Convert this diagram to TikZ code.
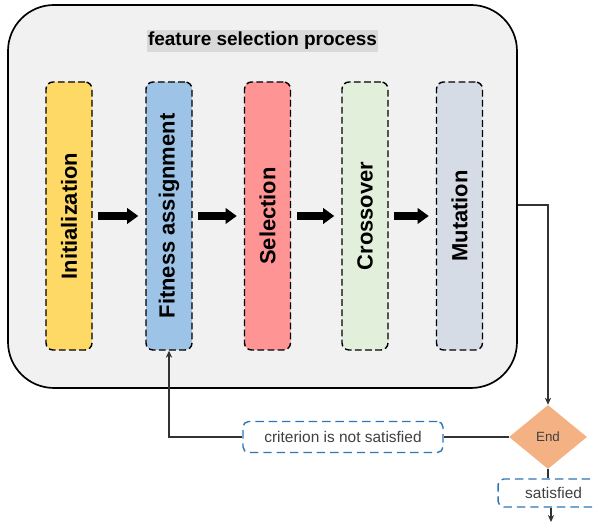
\documentclass[tikz,border=0pt]{standalone}
\usepackage{fontspec}
\setmainfont{Liberation Sans}
\usepackage{graphicx}
\usetikzlibrary{arrows.meta,shapes.geometric}

\begin{document}
\begin{tikzpicture}[
  stage/.style={draw=black, dash pattern=on 4.8pt off 2.4pt, line width=1pt,
    rounded corners=5pt, minimum width=1.15cm, minimum height=6.7cm,
    inner sep=0pt, font=\fontsize{15.6}{18}\selectfont\bfseries},
  outcome/.style={draw=dashblue, dash pattern=on 6pt off 3.5pt, line width=1pt,
    rounded corners=4pt, inner sep=0pt, text=labelgray,
    font=\fontsize{11}{13}\selectfont},
  bigarrow/.style={line width=5.5pt, -{Triangle[length=8pt,width=11pt]},
    shorten <=4pt, shorten >=5pt},
  flow/.style={line width=0.9pt, draw=linegray, -{Stealth[length=5pt,width=4.5pt]}}
]

% Define colors for the stages
\definecolor{initcol}{RGB}{255,217,102}
\definecolor{fitcol}{RGB}{157,195,230}
\definecolor{selcol}{RGB}{255,148,148}
\definecolor{crosscol}{RGB}{226,239,218}
\definecolor{mutcol}{RGB}{214,220,229}
\definecolor{endcol}{RGB}{244,177,131}
\definecolor{panelgray}{RGB}{241,241,241}
\definecolor{titlegray}{RGB}{217,217,217}
\definecolor{dashblue}{RGB}{46,117,182}
\definecolor{labelgray}{RGB}{64,64,64}
\definecolor{linegray}{RGB}{50,50,50}

% Page frame
\useasboundingbox (0,0) rectangle (14.825,13.2);

% Outer panel with its title
\node[draw=black, line width=1.2pt, fill=panelgray, rounded corners=1.15cm,
  minimum width=12.725cm, minimum height=9.575cm, inner sep=0pt] (process) at (6.5625,8.2875) {};
\node[fill=titlegray, inner xsep=1pt, inner ysep=1pt, text height=10pt, text depth=3pt,
  font=\fontsize{13.5}{16}\selectfont\bfseries] (title) at (6.5625,12.175) {feature selection process};

% Stages of the process
\node[stage, fill=initcol] (init) at (1.725,7.8) {\rotatebox{90}{Initialization}};
\node[stage, fill=fitcol] (fitness) at (4.225,7.8) {\rotatebox{90}{Fitness assignment}};
\node[stage, fill=selcol] (select) at (6.6875,7.8) {\rotatebox{90}{Selection}};
\node[stage, fill=crosscol] (cross) at (9.125,7.8) {\rotatebox{90}{Crossover}};
\node[stage, fill=mutcol] (mutate) at (11.4875,7.8) {\rotatebox{90}{Mutation}};

% Thick arrows between the stages
\draw[bigarrow] (init) -- (fitness);
\draw[bigarrow] (fitness) -- (select);
\draw[bigarrow] (select) -- (cross);
\draw[bigarrow] (cross) -- (mutate);

% Decision and its outcomes
\node[diamond, fill=endcol, minimum width=1.95cm, minimum height=1.6cm, inner sep=0pt,
  text=labelgray, font=\fontsize{9.5}{11}\selectfont] (enddec) at (13.7,2.275) {End};
\node[outcome, minimum width=5cm, minimum height=0.775cm] (notsat) at (8.575,2.275) {criterion is not satisfied};
\node[outcome, minimum width=2.775cm, minimum height=0.7cm] (sat) at (13.84,0.875) {satisfied};
\coordinate (exit) at (13.775,0.15);

% Connectors
\draw[flow] ([yshift=-0.2125cm]process.east) -| (enddec.north);
\draw[line width=0.9pt, draw=linegray] (enddec.west) -- (notsat.east);
\draw[flow] (notsat.west) -| (fitness.south);
\draw[line width=0.9pt, draw=linegray] (enddec.south) -- (enddec.south |- sat.north);
\draw[flow] (sat.south -| exit) -- (exit);
\end{tikzpicture}
\end{document}
